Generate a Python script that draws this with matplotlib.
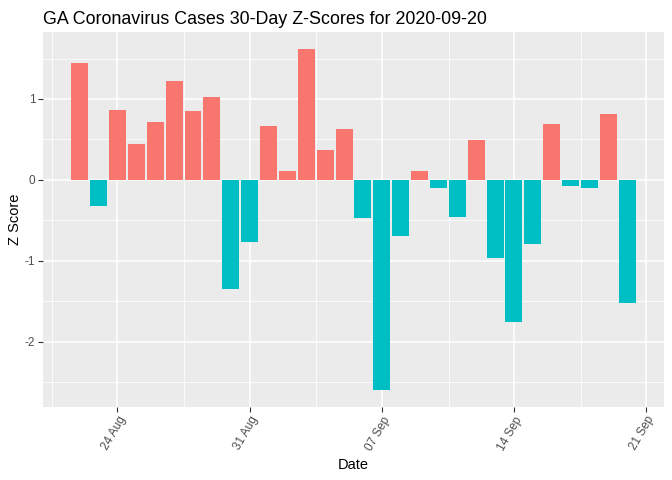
import numpy as np
import pandas as pd
import matplotlib
matplotlib.use("Agg")
import matplotlib.pyplot as plt
import matplotlib.dates as mdates
from matplotlib.ticker import MultipleLocator

plt.rcParams['font.family'] = ['Liberation Sans', 'DejaVu Sans']
plt.rcParams['axes.unicode_minus'] = False

# data, one value per day
dates = pd.date_range("2020-08-22", "2020-09-20", freq="D")
z_scores = [1.445, -0.317, 0.864, 0.444, 0.716, 1.222, 0.852, 1.025, -1.354, -0.774,
            0.667, 0.111, 1.617, 0.370, 0.630, -0.469, -2.593, -0.691, 0.111, -0.099,
            -0.457, 0.494, -0.963, -1.753, -0.790, 0.691, -0.074, -0.099, 0.815, -1.519]
title = "GA Coronavirus Cases 30-Day Z-Scores for 2020-09-20"

z = np.array(z_scores)
colors = np.where(z > 0, '#F8766D', '#00BFC4')

fig = plt.figure(figsize=(6.72, 4.8), dpi=100)
ax = fig.add_axes([0.064, 0.1527, 0.924, 0.7806])
ax.set_facecolor('#EBEBEB')

ax.bar(dates, z, width=0.9, color=colors, zorder=3)

# ggplot-like limits (5% expansion)
lo = mdates.date2num(dates[0]) - 0.45
hi = mdates.date2num(dates[-1]) + 0.45
pad = (hi - lo) * 0.05
ax.set_xlim(lo - pad, hi + pad)
ypad = (z.max() - z.min()) * 0.05
ax.set_ylim(z.min() - ypad, z.max() + ypad)

ax.xaxis.set_major_locator(mdates.WeekdayLocator(byweekday=mdates.MO))
ax.xaxis.set_minor_locator(mdates.RRuleLocator(mdates.rrulewrapper(mdates.WEEKLY, byweekday=mdates.TH, byhour=12)))
ax.xaxis.set_major_formatter(mdates.DateFormatter('%d %b'))
ax.yaxis.set_major_locator(MultipleLocator(1))
ax.yaxis.set_minor_locator(MultipleLocator(0.5))

ax.grid(which='major', color='white', linewidth=1.1, zorder=0)
ax.grid(which='minor', color='white', linewidth=0.55, zorder=0)
ax.set_axisbelow(True)
for s in ax.spines.values():
    s.set_visible(False)

ax.tick_params(which='major', length=3.5, width=0.8, color='#333333',
               labelcolor='#4D4D4D', labelsize=8.5, pad=2)
ax.tick_params(which='minor', length=0)
for lab in ax.get_xticklabels():
    lab.set_rotation(60)
    lab.set_ha('right')
    lab.set_va('top')
    lab.set_rotation_mode('anchor')

ax.set_xlabel('Date', fontsize=10.5, color='black', labelpad=4)
ax.set_ylabel('Z Score', fontsize=10.5, color='black', labelpad=2)
ax.set_title(title, loc='left', fontsize=12.9, color='black', pad=5.5)

fig.savefig('out.png', dpi=100)
